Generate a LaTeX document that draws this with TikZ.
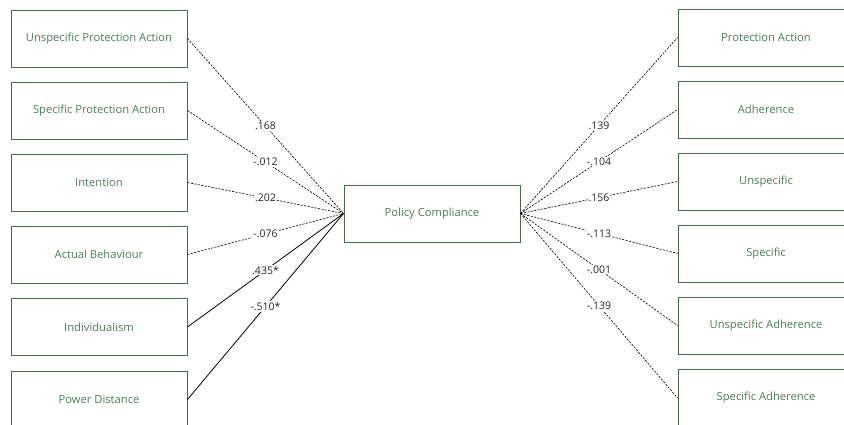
\documentclass[tikz,border=0pt]{standalone}
\usepackage{fontspec}
\setmainfont{Open Sans}
\definecolor{boxgreen}{HTML}{3F6B4E}
\definecolor{txtgreen}{HTML}{4E7A5C}
\begin{document}
\begin{tikzpicture}[x=1pt,y=-1pt,
  var/.style={draw=boxgreen, line width=0.9pt, minimum width=176pt, minimum height=57pt, inner sep=0pt, text=txtgreen, font=\fontsize{11.2}{13}\selectfont},
  ns/.style={draw=black, line width=0.6pt, dash pattern=on 2.2pt off 1.3pt},
  sig/.style={draw=black, line width=0.8pt},
  lbl/.style={midway, fill=white, inner sep=1pt, text=black!85, font=\fontsize{10.5}{12}\selectfont}]
\useasboundingbox (0,0) rectangle (844,425);
\clip (0,0) rectangle (844,425);
% left
\node[var] (l1) at (99,38.5) {Unspecific Protection Action};
\node[var] (l2) at (99,110.5) {Specific Protection Action};
\node[var] (l3) at (99,182.5) {Intention};
\node[var] (l4) at (99,254.5) {Actual Behaviour};
\node[var] (l5) at (99,327) {Individualism};
\node[var] (l6) at (99,399.5) {Power Distance};
% center
\node[var] (pc) at (432,213.5) {Policy Compliance};
% right
\node[var] (r1) at (766,37.5) {Protection Action};
\node[var] (r2) at (766,109.5) {Adherence};
\node[var] (r3) at (766,181.5) {Unspecific};
\node[var] (r4) at (766,253.5) {Specific};
\node[var] (r5) at (766,325.5) {Unspecific Adherence};
\node[var] (r6) at (766,398) {Specific Adherence};
% connectors left
\draw[ns] (l1.east) -- node[lbl] {.168} (pc.west);
\draw[ns] (l2.east) -- node[lbl] {-.012} (pc.west);
\draw[ns] (l3.east) -- node[lbl] {.202} (pc.west);
\draw[ns] (l4.east) -- node[lbl] {-.076} (pc.west);
\draw[sig] (l5.east) -- node[lbl] {.435*} (pc.west);
\draw[sig] (l6.east) -- node[lbl] {-.510*} (pc.west);
% connectors right
\draw[ns] (pc.east) -- node[lbl] {.139} (r1.west);
\draw[ns] (pc.east) -- node[lbl] {-.104} (r2.west);
\draw[ns] (pc.east) -- node[lbl] {.156} (r3.west);
\draw[ns] (pc.east) -- node[lbl] {-.113} (r4.west);
\draw[ns] (pc.east) -- node[lbl] {-.001} (r5.west);
\draw[ns] (pc.east) -- node[lbl] {-.139} (r6.west);
\end{tikzpicture}
\end{document}
